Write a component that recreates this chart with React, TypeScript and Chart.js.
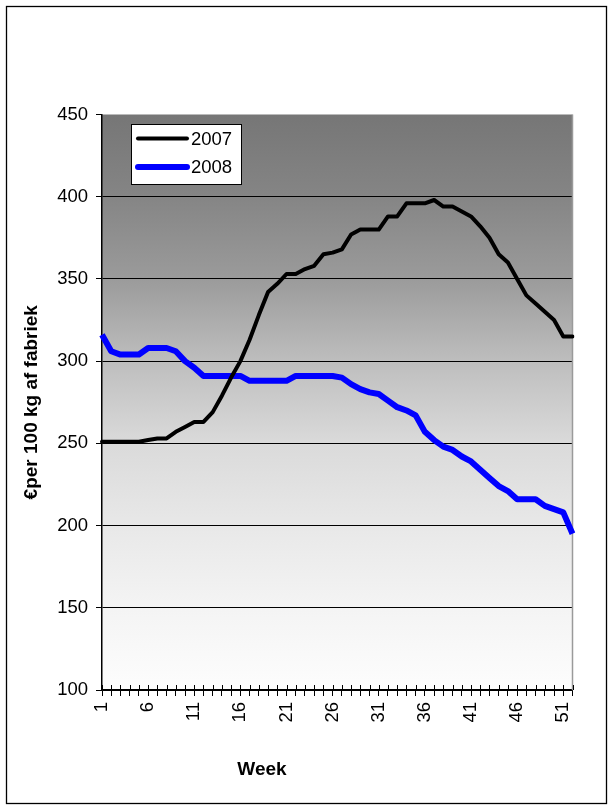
import React, { useEffect, useRef } from "react";
import { Chart, registerables } from "chart.js";

Chart.register(...registerables);

const weeks = [
  "1", "2", "3", "4", "5", "6", "7", "8", "9", "10",
  "11", "12", "13", "14", "15", "16", "17", "18", "19", "20",
  "21", "22", "23", "24", "25", "26", "27", "28", "29", "30",
  "31", "32", "33", "34", "35", "36", "37", "38", "39", "40",
  "41", "42", "43", "44", "45", "46", "47", "48", "49", "50",
  "51", "52",
];

const prices2007 = [
  251, 251, 251, 251, 251, 252, 253, 253, 257, 260,
  263, 263, 269, 279, 290, 300, 313, 328, 342, 347,
  353, 353, 356, 358, 365, 366, 368, 377, 380, 380,
  380, 388, 388, 396, 396, 396, 398, 394, 394, 391,
  388, 382, 375, 365, 360, 350, 340, 335, 330, 325,
  315, 315,
];

const prices2008 = [
  316, 306, 304, 304, 304, 308, 308, 308, 306, 300,
  296, 291, 291, 291, 291, 291, 288, 288, 288, 288,
  288, 291, 291, 291, 291, 291, 290, 286, 283, 281,
  280, 276, 272, 270, 267, 257, 252, 248, 246, 242,
  239, 234, 229, 224, 221, 216, 216, 216, 212, 210,
  208, 195,
];

const seriesLabels = ["2007", "2008"];
const seriesColors = ["#000000", "#0000ff"];
const seriesWidths = [4, 6];

const yMin = 100;
const yMax = 450;
const yStep = 50;

const yTitle = "€per 100 kg af fabriek";
const xTitle = "Week";

const FONT = "'Liberation Sans', Arial, sans-serif";

const framePlugin = {
  id: "frame",
  beforeDraw(chart: any) {
    const { ctx, chartArea: a, width, height } = chart;
    ctx.save();
    ctx.fillStyle = "#ffffff";
    ctx.fillRect(0, 0, width, height);
    const g = ctx.createLinearGradient(0, a.top, 0, a.bottom);
    g.addColorStop(0, "rgb(118,118,118)");
    g.addColorStop(0.144, "rgb(133,133,133)");
    g.addColorStop(0.287, "rgb(155,155,155)");
    g.addColorStop(0.43, "rgb(190,190,190)");
    g.addColorStop(0.57, "rgb(218,218,218)");
    g.addColorStop(0.713, "rgb(232,232,232)");
    g.addColorStop(0.86, "rgb(244,244,244)");
    g.addColorStop(1, "rgb(253,253,253)");
    ctx.fillStyle = g;
    ctx.fillRect(a.left, a.top, a.right - a.left, a.bottom - a.top);
    ctx.strokeStyle = "#000";
    ctx.lineWidth = 1.3;
    ctx.strokeRect(6.5, 6.5, 600, 797);
    ctx.restore();
  },
  beforeDatasetsDraw(chart: any) {
    const { ctx, chartArea: a, scales } = chart;
    ctx.save();
    // right border of plot area
    ctx.strokeStyle = "#9a9a9a";
    ctx.lineWidth = 1.5;
    ctx.beginPath();
    ctx.moveTo(a.right, a.top);
    ctx.lineTo(a.right, a.bottom);
    ctx.stroke();
    // inward x ticks
    ctx.strokeStyle = "#000";
    ctx.lineWidth = 1;
    const xs = scales.x;
    for (let i = 0; i < weeks.length; i++) {
      const x = Math.round(xs.getPixelForValue(i)) + 0.5;
      ctx.beginPath();
      ctx.moveTo(x, a.bottom);
      ctx.lineTo(x, a.bottom - 5);
      ctx.stroke();
    }
    ctx.restore();
  },
  afterDraw(chart: any) {
    const { ctx } = chart;
    ctx.save();
    // legend box
    ctx.fillStyle = "#ffffff";
    ctx.fillRect(131.5, 124.5, 110, 60);
    ctx.strokeStyle = "#000";
    ctx.lineWidth = 1;
    ctx.strokeRect(131.5, 124.5, 110, 60);
    const ys = [138.5, 167];
    chart.data.datasets.forEach((ds: any, i: number) => {
      ctx.strokeStyle = ds.borderColor;
      ctx.lineWidth = ds.borderWidth;
      ctx.lineCap = "round";
      ctx.beginPath();
      ctx.moveTo(138, ys[i]);
      ctx.lineTo(187, ys[i]);
      ctx.stroke();
      ctx.fillStyle = "#000";
      ctx.font = `18.5px ${FONT}`;
      ctx.textAlign = "left";
      ctx.textBaseline = "middle";
      ctx.fillText(ds.label, 191, ys[i] + 1);
    });
    // x axis title
    ctx.fillStyle = "#000";
    ctx.font = `bold 19px ${FONT}`;
    ctx.textAlign = "center";
    ctx.textBaseline = "middle";
    ctx.fillText(xTitle, 262, 770);
    ctx.restore();
  },
};

export default function App() {
  const ref = useRef<HTMLCanvasElement | null>(null);

  useEffect(() => {
    if (!ref.current) return;
    const chart = new Chart(ref.current, {
      type: "line",
      data: {
        labels: weeks,
        datasets: [
          {
            label: seriesLabels[0],
            data: prices2007,
            borderColor: seriesColors[0],
            backgroundColor: seriesColors[0],
            borderWidth: seriesWidths[0],
            pointRadius: 0,
            tension: 0,
            borderJoinStyle: "round",
            borderCapStyle: "round",
          },
          {
            label: seriesLabels[1],
            data: prices2008,
            borderColor: seriesColors[1],
            backgroundColor: seriesColors[1],
            borderWidth: seriesWidths[1],
            pointRadius: 0,
            tension: 0,
            borderJoinStyle: "round",
            borderCapStyle: "butt",
          },
        ],
      },
      options: {
        animation: false,
        responsive: false,
        maintainAspectRatio: false,
        devicePixelRatio: 1,
        layout: { padding: { top: 114.5, right: 35.5, bottom: 0, left: 0 } },
        plugins: {
          legend: { display: false },
          tooltip: { enabled: false },
          title: { display: false },
        },
        scales: {
          x: {
            type: "category",
            offset: false,
            grid: {
              display: true,
              drawOnChartArea: false,
              drawTicks: true,
              tickLength: 6,
              color: "#000",
              tickColor: "#000",
              lineWidth: 1,
            },
            border: { display: true, color: "#000", width: 1.5 },
            ticks: {
              autoSkip: false,
              maxRotation: 90,
              minRotation: 90,
              padding: 6,
              color: "#000",
              font: { family: FONT, size: 18.5 },
              callback: (_v: any, i: number) => (i % 5 === 0 ? weeks[i] : ""),
            },
            afterFit: (s: any) => {
              s.height = 115;
            },
          },
          y: {
            min: yMin,
            max: yMax,
            ticks: {
              stepSize: yStep,
              padding: 8,
              color: "#000",
              font: { family: FONT, size: 18.5 },
            },
            grid: {
              color: (c: any) =>
                c.tick && c.tick.value === yMax ? "rgba(0,0,0,0)" : "#000",
              tickColor: "#000",
              lineWidth: 1,
              tickLength: 6,
              drawTicks: true,
            },
            border: { display: true, color: "#000", width: 1.5 },
            title: {
              display: true,
              text: yTitle,
              color: "#000",
              font: { family: FONT, size: 19, weight: "bold" },
              padding: { top: 20, bottom: 0 },
            },
            afterFit: (s: any) => {
              s.width = 102;
            },
          },
        },
      },
      plugins: [framePlugin],
    } as any);
    return () => chart.destroy();
  }, []);

  return (
    <div style={{ position: "absolute", left: 0, top: 0, width: 608, height: 805 }}>
      <canvas ref={ref} width={608} height={805} style={{ width: 608, height: 805 }} />
    </div>
  );
}
